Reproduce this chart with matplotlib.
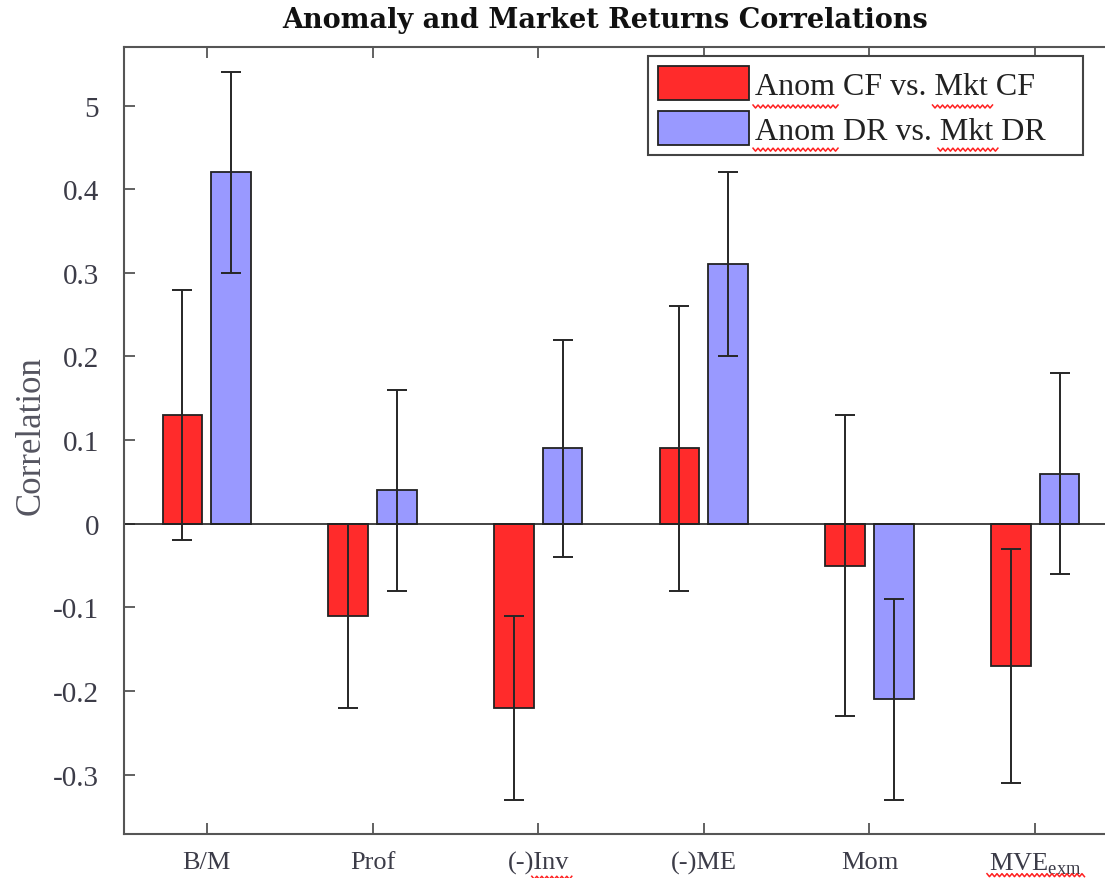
import matplotlib
matplotlib.use("Agg")
import matplotlib.pyplot as plt
from matplotlib.lines import Line2D
from matplotlib.transforms import IdentityTransform
import numpy as np

plt.rcParams['font.family'] = ['Liberation Serif', 'DejaVu Serif']
plt.rcParams['mathtext.fontset'] = 'custom'
plt.rcParams['mathtext.rm'] = 'Liberation Serif'

# anomaly portfolios and correlation estimates with their +/- error widths
anomalies = ['B/M', 'Prof', '(-)Inv', '(-)ME', 'Mom', r'MVE$_{\rm exm}$']
cf_corr = [0.13, -0.11, -0.22, 0.09, -0.05, -0.17]
cf_err = [0.15, 0.11, 0.11, 0.17, 0.18, 0.14]
dr_corr = [0.42, 0.04, 0.09, 0.31, -0.21, 0.06]
dr_err = [0.12, 0.12, 0.13, 0.11, 0.12, 0.12]
series_labels = ['Anom CF vs. Mkt CF', 'Anom DR vs. Mkt DR']

ytick_vals = [-0.3, -0.2, -0.1, 0, 0.1, 0.2, 0.3, 0.4, 0.5]
ytick_text = ['-0.3', '-0.2', '-0.1', '0', '0.1', '0.2', '0.3', '0.4', '5']

txt_color = '#3c3c48'
W, H = 1105, 879
fig = plt.figure(figsize=(W / 100, H / 100), dpi=100)
ax = fig.add_axes([124 / W, 1 - 835 / H, (1118 - 124) / W, (835 - 48) / H])

x = np.arange(1, len(anomalies) + 1)
width = 0.24
off = 0.147
ax.bar(x - off, cf_corr, width, color='#ff2b2b', edgecolor='#222222', linewidth=1.3,
       label=series_labels[0], zorder=2)
ax.bar(x + off, dr_corr, width, color='#9999ff', edgecolor='#222222', linewidth=1.3,
       label=series_labels[1], zorder=2)
ax.errorbar(x - off, cf_corr, yerr=cf_err, fmt='none', ecolor='#262626',
            elinewidth=1.4, capsize=7, capthick=1.4, zorder=3)
ax.errorbar(x + off, dr_corr, yerr=dr_err, fmt='none', ecolor='#262626',
            elinewidth=1.4, capsize=7, capthick=1.4, zorder=3)
ax.axhline(0, color='#222222', linewidth=1.2, zorder=2.5)

ax.set_xlim(0.5, 6.5)
ax.set_ylim(-0.371, 0.57)
ax.set_xticks(x)
ax.set_xticklabels(anomalies)
ax.set_yticks(ytick_vals)
ax.set_yticklabels(ytick_text)
ax.tick_params(direction='in', length=8, width=1.3, color='#555555',
               top=True, right=True, labelcolor=txt_color)
ax.tick_params(axis='x', labelsize=19, pad=12)
ax.tick_params(axis='y', labelsize=21, pad=18)
for sp in ax.spines.values():
    sp.set_color('#555555')
    sp.set_linewidth(1.5)

ax.set_ylabel('Correlation', fontsize=25, color='#555560')
ax.yaxis.set_label_coords(-0.077, 0.508)
fig.text(605 / W, 1 - 20 / H, 'Anomaly and Market Returns Correlations',
         ha='center', va='center', fontsize=19.5, fontweight='bold',
         family='DejaVu Serif', color='#111111')

leg = ax.legend(loc='upper left', bbox_to_anchor=(648 / W, 1 - 157 / H, 435 / W, 100 / H),
                bbox_transform=fig.transFigure, mode='expand', borderaxespad=0,
                fontsize=23, handlelength=2.85, handleheight=1.28, handletextpad=0.2,
                labelspacing=0.32, borderpad=0.3, fancybox=False, framealpha=1)
leg.get_frame().set_edgecolor('#444444')
leg.get_frame().set_linewidth(1.5)
for t in leg.get_texts():
    t.set_color('#222222')


# red wavy underline (spell-check style) under part of a text artist
def squiggle(text, start, stop, drop=6):
    r = fig.canvas.get_renderer()
    bb = text.get_window_extent(r)
    prop = text.get_fontproperties()
    s = text.get_text()
    w0 = r.get_text_width_height_descent(s[:start], prop, ismath=False)[0] if start else 0
    w1 = r.get_text_width_height_descent(s[:stop], prop, ismath=False)[0] if stop else bb.width
    x0, x1 = bb.x0 + w0 - 2, bb.x0 + w1 + 5
    xs = np.arange(x0, x1, 2.5)
    ys = bb.y0 - drop + np.where(np.arange(len(xs)) % 2 == 0, 1.5, -1.5)
    fig.add_artist(Line2D(xs, ys, color='#ff2020', linewidth=1.1,
                          transform=IdentityTransform()))


fig.canvas.draw()
for i, t in enumerate(leg.get_texts()):
    s = t.get_text()
    d = 6 if i == 0 else 4
    squiggle(t, 0, 4, drop=d)
    k = s.index('Mkt')
    squiggle(t, k, k + 3, drop=d)
xl = ax.get_xticklabels()
squiggle(xl[2], 3, 6, drop=4)
squiggle(xl[5], 0, 0, drop=-1)

fig.savefig('out.png', dpi=100)
